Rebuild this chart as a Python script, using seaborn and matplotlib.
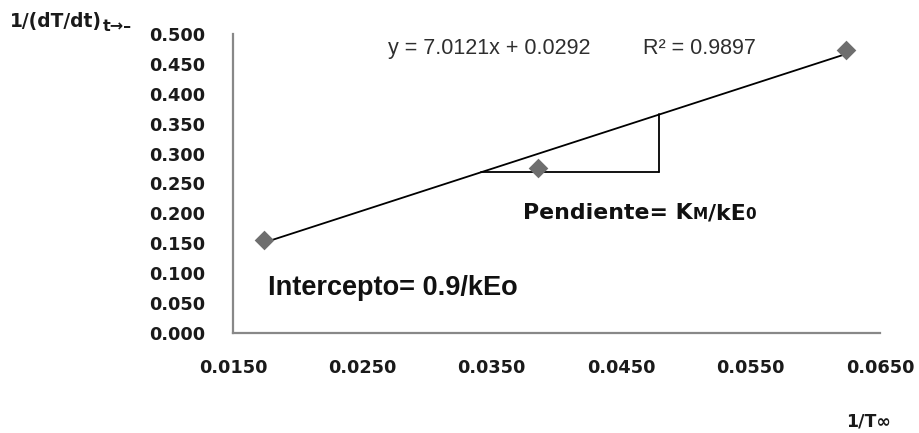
import matplotlib
matplotlib.use("Agg")
import matplotlib.pyplot as plt
import seaborn as sns
import numpy as np
import pandas as pd
from matplotlib.offsetbox import TextArea, HPacker, AnnotationBbox

# ---- data ----
inv_T = [0.0174, 0.0386, 0.0624]
inv_rate = [0.155, 0.276, 0.473]
slope = 7.0121
intercept = 0.0292
r2 = 0.9897
tri_y = 0.269          # horizontal leg of slope triangle
tri_x_right = 0.04795  # vertical leg of slope triangle
x_ticks = [0.015, 0.025, 0.035, 0.045, 0.055, 0.065]
y_ticks = [0.0, 0.05, 0.1, 0.15, 0.2, 0.25, 0.3, 0.35, 0.4, 0.45, 0.5]

df = pd.DataFrame({"x": inv_T, "y": inv_rate})

sns.set_theme(style="white")
plt.rcParams['font.family'] = ['DejaVu Sans']

fig = plt.figure(figsize=(9.19, 4.33), dpi=100)
ax = fig.add_axes([233/919, 1-333/433, (880-233)/919, (333-34)/433])

# trendline
xs = np.array([min(inv_T), max(inv_T)])
ax.plot(xs, slope*xs + intercept, color="black", lw=1.3, zorder=3)

# slope triangle
x_left = (tri_y - intercept) / slope
ax.plot([x_left, tri_x_right], [tri_y, tri_y], color="black", lw=1.3, zorder=3)
ax.plot([tri_x_right, tri_x_right], [tri_y, slope*tri_x_right + intercept], color="black", lw=1.3, zorder=3)

sns.scatterplot(data=df, x="x", y="y", ax=ax, marker="D", s=100, color="#6e6e6e",
                edgecolor="#6e6e6e", linewidth=0, zorder=4)

ax.set_xlim(0.015, 0.065)
ax.set_ylim(0.0, 0.5)
ax.set_xticks(x_ticks)
ax.set_yticks(y_ticks)
ax.set_xticklabels([f"{v:.4f}" for v in x_ticks], fontsize=12.8, fontweight="bold", color="#1a1a1a")
ax.set_yticklabels([f"{v:.3f}" for v in y_ticks], fontsize=12.8, fontweight="bold", color="#1a1a1a")
ax.tick_params(axis="x", length=0, pad=19)
ax.tick_params(axis="y", length=0, pad=20)
ax.set_xlabel("")
ax.set_ylabel("")
for s in ["top", "right"]:
    ax.spines[s].set_visible(False)
for s in ["left", "bottom"]:
    ax.spines[s].set_color("#888888")
    ax.spines[s].set_linewidth(1.6)
ax.patch.set_alpha(0)

# axis titles
fig.text(10/919, 1-27/433, "1/(dT/dt)", fontsize=13.4, fontweight="bold", color="#1a1a1a",
         ha="left", va="baseline")
fig.text(103/919, 1-31/433, "t→–", fontsize=11.5, fontweight="bold", color="#1a1a1a",
         ha="left", va="baseline")
fig.text(846/919, 1-427/433, "1/T∞", fontsize=12.5, fontweight="bold", color="#1a1a1a",
         ha="left", va="baseline")

# equation
fig.text(388/919, 1-54/433, f"y = {slope:.4f}x + {intercept:.4f}", fontsize=15.5,
         family="Liberation Sans", color="#2e2e2e", ha="left", va="baseline")
fig.text(643/919, 1-54/433, f"R² = {r2:.4f}", fontsize=15.5,
         family="Liberation Sans", color="#2e2e2e", ha="left", va="baseline")

# annotations
fig.text(268/919, 1-295/433, "Intercepto= 0.9/kEo", fontsize=19.5, fontweight="bold",
         family="Liberation Sans", color="#111111", ha="left", va="baseline")

big = dict(fontsize=15.8, fontweight="bold", family="DejaVu Sans", color="#111111")
small = dict(fontsize=11, fontweight="bold", family="DejaVu Sans", color="#111111")
box = HPacker(children=[TextArea("Pendiente= K", textprops=big),
                        TextArea("M", textprops=small),
                        TextArea("/kE", textprops=big),
                        TextArea("0", textprops=small)],
              align="baseline", pad=0, sep=0)
ab = AnnotationBbox(box, (523/919, 1-213/433), xycoords="figure fraction",
                    box_alignment=(0, 0.5), frameon=False, pad=0)
fig.add_artist(ab)

fig.savefig("out.png", dpi=100)
